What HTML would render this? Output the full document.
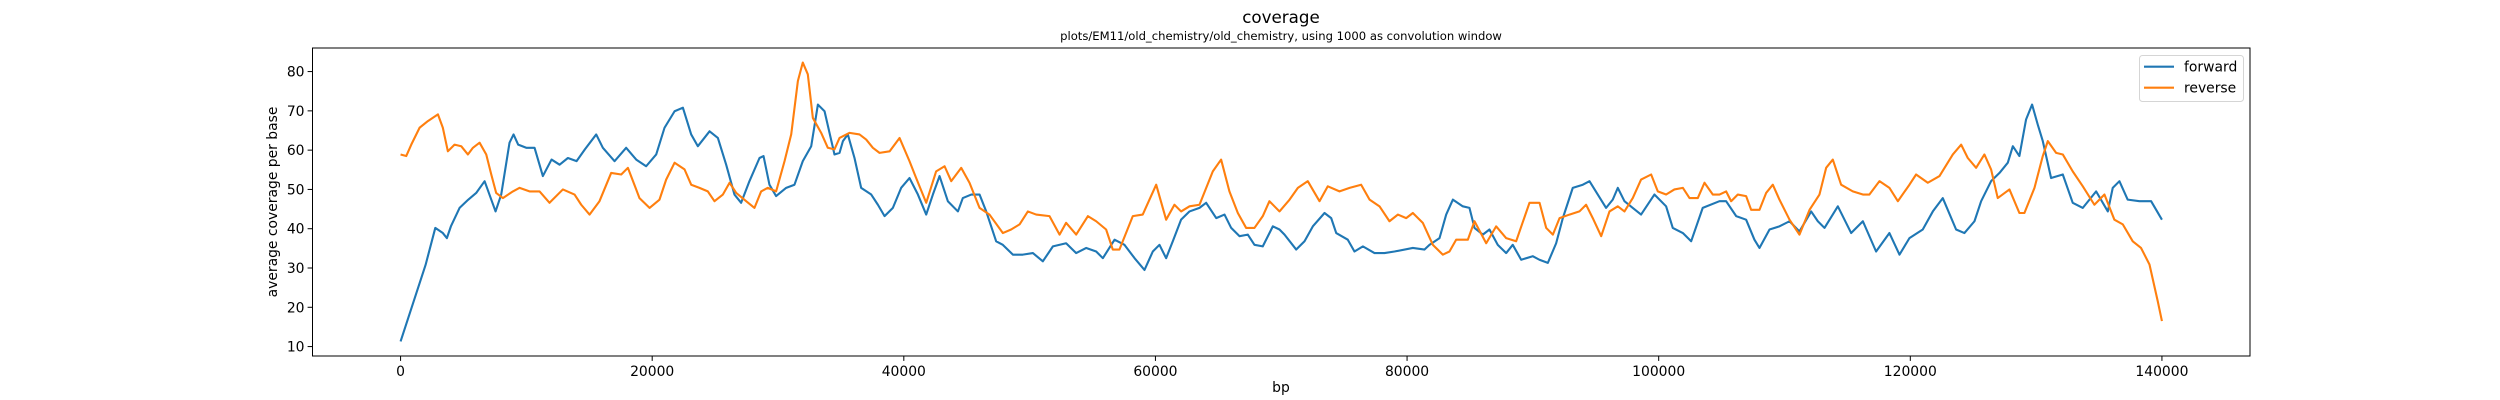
<!DOCTYPE html>
<html><head><meta charset="utf-8"><style>
html,body{margin:0;padding:0;background:#fff;}
svg{display:block;font-family:"DejaVu Sans","Liberation Sans",sans-serif;}
</style></head><body>
<svg id="chart" width="2500" height="400" viewBox="0 0 2500 400" xmlns="http://www.w3.org/2000/svg">
<rect width="2500" height="400" fill="#fff"/>
<text x="1281" y="23" font-size="16.7" text-anchor="middle" fill="#000">coverage</text>
<text x="1281" y="40" font-size="11.6" text-anchor="middle" fill="#000">plots/EM11/old_chemistry/old_chemistry, using 1000 as convolution window</text>
<g id="plot"></g>
<g id="axes"></g>
<text x="1281" y="392" font-size="13.9" text-anchor="middle">bp</text>
<text transform="translate(277,202) rotate(-90)" font-size="13.9" text-anchor="middle">average coverage per base</text>
<g>
<rect x="2139.5" y="55.5" width="104" height="46" rx="3" fill="#fff" fill-opacity="0.8" stroke="#d5d5d5"/>
<line x1="2144" y1="66.7" x2="2174" y2="66.7" stroke="#1f77b4" stroke-width="2.1"/>
<text x="2184" y="71.5" font-size="13.9">forward</text>
<line x1="2144" y1="87.7" x2="2174" y2="87.7" stroke="#ff7f0e" stroke-width="2.1"/>
<text x="2184" y="92.5" font-size="13.9">reverse</text>
</g>
</svg>
<script>
const xTicks=[0,20000,40000,60000,80000,100000,120000,140000];
const yTicks=[10,20,30,40,50,60,70,80];
const fwdBp=[0,1990,2760,3360,3680,4000,4690,5380,6010,6680,7550,8000,8660,8980,9350,9990,10650,11310,12000,12640,13300,13990,14650,15550,16080,17010,17930,18730,19520,20320,20980,21780,22440,23100,23630,24560,25220,25880,26540,27070,27730,28530,28850,29320,29850,30650,31310,31970,32640,33170,33700,34490,34890,
35160,35550,36080,36610,37410,37940,38470,39130,39790,40450,41120,41780,42310,42840,43500,44300,44690,45360,46020,46550,47340,47870,48670,49460,50260,51050,51850,52900,53700,54500,55290,55820,56750,57540,58340,59130,59790,60320,60850,61380,62040,62710,63500,64030,64830,65490,66020,66680,67340,67870,68530,69330,69860,
70260,71190,71850,72510,73440,73970,74370,75290,75820,76490,77410,78210,79000,80460,81390,81780,82580,83110,83640,84430,84960,85360,86020,86550,87210,87880,88400,89070,89990,90520,91190,91850,92380,93170,93970,94500,95160,95820,96350,96750,97280,97940,98600,99660,100590,101120,101920,102580,103500,104830,
105360,106160,106950,107610,108010,108810,109600,110400,111190,112120,112650,113180,114240,115300,116230,117280,118340,119140,119930,120990,121790,122580,123640,124300,125100,125630,126420,127090,127750,128150,128670,129200,129680,130130,130530,131190,132120,132910,133710,134770,135700,136090,136620,137280,138210,139140,140000];
const fwdCov=[11.3,30.8,40.2,38.9,37.6,40.6,45.3,47.4,49.1,52.1,44.4,48.7,61.9,64,61.4,60.6,60.6,53.4,57.6,56.3,58,57.2,60.2,64,60.6,57.2,60.6,57.6,55.9,58.9,65.7,69.9,70.8,64,61,64.8,63.1,56.3,48.7,46.6,52.1,58,58.5,51.2,48.3,50.4,51.2,57.2,61,71.6,69.9,58.9,59.3,
62.3,64,58,50.4,48.7,46.1,43.2,45.3,50.4,52.9,48.7,43.6,48.7,53.4,47,44.4,47.8,48.7,48.7,44.4,36.8,35.9,33.4,33.4,33.8,31.7,35.5,36.3,33.8,35.1,34.2,32.5,37.2,35.9,32.5,29.5,34.2,35.9,32.5,36.8,42.3,44.4,45.3,46.6,42.7,43.6,40.2,38.1,38.5,35.9,35.5,40.6,39.8,
38.5,34.7,36.8,40.6,44,42.7,38.9,37.2,34.2,35.5,33.8,33.8,34.2,35.1,34.7,35.9,37.6,43.6,47.4,45.7,45.3,40.2,38.5,39.8,35.9,33.8,35.9,32.1,33,32.1,31.3,36.3,42.7,50.4,51.2,52.1,48.7,45.3,47.4,50.4,47,45.3,43.6,48.7,45.7,40.2,38.9,36.8,45.3,47,
47,43.2,42.3,37.2,35.1,39.8,40.6,41.9,39.3,44.4,41.9,40.2,45.7,38.9,41.9,34.2,38.9,33.4,37.6,39.8,44.4,47.8,39.8,38.9,41.9,47,52.1,54.2,56.8,61,58.5,67.8,71.6,66.5,62.3,52.9,53.8,46.6,45.3,49.5,44.4,50.4,52.1,47.4,47,47,42.3];
const revBp=[0,450,850,1510,2170,2970,3360,3760,4290,4820,5350,5750,6280,6810,7210,7600,8130,8930,9460,10250,11050,11840,12900,13830,14360,15020,15810,16740,17540,18070,18990,19790,20580,21110,21780,22570,23100,23760,24420,24950,25620,26150,26680,27470,28130,28660,29190,29850,30520,31050,31580,31970,32370,32770,33430,33960,34490,34890,
35690,36480,37010,37540,38070,38870,39660,40450,40980,41780,42570,43240,43770,44560,45220,46020,46810,47870,48530,49200,49860,50520,51580,52380,52900,53700,54630,55290,56080,56610,57140,58200,58990,60060,60850,61510,62040,62710,63500,64560,65220,65880,66550,67210,67870,68530,69060,69860,
70660,71320,72110,73040,73700,74630,75430,76350,77020,77810,78600,79270,79930,80460,81250,82050,82840,83370,83900,84830,85360,86290,87080,87880,88670,89730,90530,91060,91590,92120,92910,93700,94230,94760,95430,96090,96750,97280,97940,98600,99400,99930,100590,101250,101920,102450,103110,103640,104300,104830,
105360,105760,106290,106950,107350,108010,108540,109070,109600,110400,111190,111990,112780,113310,113840,114500,115430,116230,116750,117550,118340,119010,119930,120460,121390,122320,123380,124040,124570,125230,125890,126420,126950,127880,128670,129070,129870,130530,130930,131590,132120,132910,133710,134630,135430,136220,136890,137680,138340,139010,139670,140000];
const revCov=[58.9,58.5,61.4,65.7,67.4,69.1,65.7,59.7,61.4,61,58.9,60.6,61.9,58.9,53.8,49.1,47.8,49.5,50.4,49.5,49.5,46.6,50,48.7,46.1,43.6,47,54.2,53.8,55.5,47.8,45.3,47.4,52.5,56.8,55.1,51.2,50.4,49.5,47,48.7,51.7,49.1,47,45.3,49.5,50.4,49.5,57.2,64,77.6,82.3,79.3,68.2,64.4,60.6,60.2,63.1,
64.4,64,62.7,60.6,59.3,59.7,63.1,57.2,52.9,46.6,54.6,55.9,52.1,55.5,51.7,45.3,43.6,38.9,39.8,41.1,44.4,43.6,43.2,38.5,41.5,38.5,43.2,41.9,39.8,34.7,34.7,43.2,43.6,51.2,42.3,46.1,44.4,45.7,46.1,54.6,57.6,49.5,44,40.2,40.2,43.2,47,44.4,
47.4,50.4,52.1,47,50.8,49.5,50.4,51.2,47.4,45.7,41.9,43.6,42.7,44,41.5,35.9,33.4,34.2,37.2,37.2,41.9,36.3,40.6,37.6,36.8,46.6,46.6,40.2,38.5,42.7,43.6,44.4,46.1,42.7,38.1,44.4,45.7,44.4,47.8,52.5,53.8,49.5,48.7,50,50.4,47.8,47.8,51.7,48.7,48.7,
49.5,47,48.7,48.3,44.8,44.8,49.1,51.2,47.4,42.3,38.5,44.8,48.7,55.5,57.6,51.2,49.5,48.7,48.7,52.1,50.4,47,51.2,53.8,51.7,53.4,58.9,61.4,58,55.5,58.9,55.1,47.8,50,44,44,50.4,58.5,62.3,59.3,58.9,54.6,50.8,46.1,48.7,42.3,41.1,36.8,35.1,30.9,21.5,16.5];

const L=312.5,R=2250,T=48,B=356,X0=-7000,X1=147000,Y0=7.6,Y1=86;
const sx=v=>L+(v-X0)/(X1-X0)*(R-L);
const sy=v=>B-(v-Y0)/(Y1-Y0)*(B-T);
const NS="http://www.w3.org/2000/svg";
const plot=document.getElementById('plot'),axes=document.getElementById('axes');
function mk(tag,attrs,parent){const e=document.createElementNS(NS,tag);for(const k in attrs)e.setAttribute(k,attrs[k]);parent.appendChild(e);return e;}
function series(bp,cov,color,name){
  let d='';
  for(let i=0;i<bp.length;i++)d+=(i?'L':'M')+sx(bp[i]).toFixed(2)+','+sy(cov[i]).toFixed(2);
  const p=mk('path',{d:d,fill:'none',stroke:color,'stroke-width':2.1,'stroke-linejoin':'round'},plot);
  
  
}
series(fwdBp,fwdCov,'#1f77b4','forward-line');
series(revBp,revCov,'#ff7f0e','reverse-line');
const frame=mk('rect',{x:L,y:T,width:R-L,height:B-T,fill:'none',stroke:'#000','stroke-width':1},axes);


xTicks.forEach(t=>{
  const x=sx(t);
  const ln=mk('line',{x1:x,y1:B,x2:x,y2:B+4.9,stroke:'#000','stroke-width':1},axes);
  
  
  const tx=mk('text',{x:x,y:B+20,'font-size':13.9,'text-anchor':'middle'},axes);
  tx.textContent=String(t);
  
  
});
yTicks.forEach(t=>{
  const y=sy(t);
  const ln=mk('line',{x1:L-4.9,y1:y,x2:L,y2:y,stroke:'#000','stroke-width':1},axes);
  
  
  const tx=mk('text',{x:L-8,y:y+5,'font-size':13.9,'text-anchor':'end'},axes);
  tx.textContent=String(t);
  
  
});
</script>
</body></html>
